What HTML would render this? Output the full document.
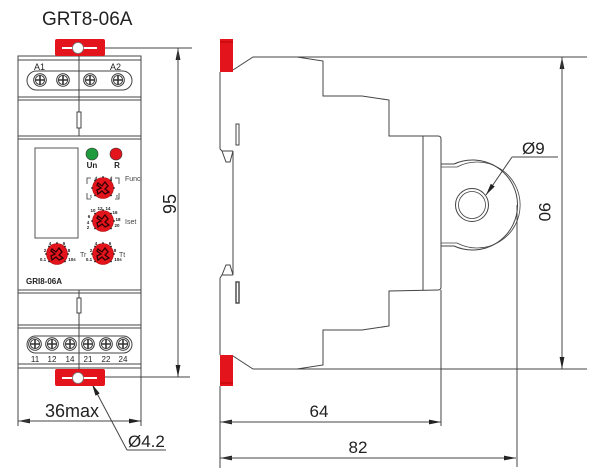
<!DOCTYPE html>
<html><head><meta charset="utf-8"><style>
html,body{margin:0;padding:0;background:#fff;}
svg{display:block;}
text{font-family:"Liberation Sans",Arial,sans-serif;}
</style></head><body>
<svg width="600" height="473" viewBox="0 0 600 473" xmlns="http://www.w3.org/2000/svg">
<defs>
<marker id="ar" viewBox="0 0 12 6" refX="12" refY="3" markerWidth="12" markerHeight="6" markerUnits="userSpaceOnUse" orient="auto">
<path d="M0,0.6 L12,3 L0,5.4 Z" fill="#222"/>
</marker>
<g id="screw"><circle r="6.3" fill="#fff" stroke="#333" stroke-width="1"/><circle r="4.6" fill="none" stroke="#333" stroke-width="0.9"/><path d="M-4.6,0 H4.6 M0,-4.6 V4.6" stroke="#333" stroke-width="1.6"/></g>
<g id="knob"><circle r="10.5" fill="#e3141c" stroke="#a00" stroke-width="0.6"/>
<path d="M-5,-5 L-1,-2 L2,-6 L5,-2 L2,1 L6,4 L2,6 L-1,3 L-5,6 L-6,2 L-2,0 L-6,-3 Z" fill="none" stroke="#300" stroke-width="1.3"/>
<circle cx="0" cy="-11" r="0.9" fill="#222"/><circle cx="8" cy="-7.5" r="0.9" fill="#222"/><circle cx="-8" cy="-7.5" r="0.9" fill="#222"/><circle cx="11" cy="0" r="0.9" fill="#222"/><circle cx="-11" cy="0" r="0.9" fill="#222"/><circle cx="8" cy="7.5" r="0.9" fill="#222"/><circle cx="-8" cy="7.5" r="0.9" fill="#222"/></g>
</defs>

<!-- Title -->
<text x="42" y="25" font-size="19" fill="#222">GRT8-06A</text>

<g stroke="#444" stroke-width="1" fill="none">
<!-- front body -->
<rect x="18" y="56" width="123" height="312"/>
<line x1="18" y1="60" x2="141" y2="60"/>
<line x1="18" y1="97" x2="141" y2="97"/>
<line x1="18" y1="100" x2="141" y2="100"/>
<line x1="18" y1="136" x2="141" y2="136"/>
<line x1="18" y1="139" x2="141" y2="139"/>
<line x1="18" y1="290" x2="141" y2="290"/>
<line x1="18" y1="293" x2="141" y2="293"/>
<line x1="18" y1="325" x2="141" y2="325"/>
<line x1="18" y1="328" x2="141" y2="328"/>
<line x1="18" y1="364" x2="141" y2="364"/>
<line x1="18" y1="368" x2="18" y2="426"/>
<line x1="141" y1="368" x2="141" y2="426"/>
<rect x="27" y="71" width="105" height="19" rx="9.5"/>
<rect x="27" y="336" width="105" height="17" rx="8.5"/>
<line x1="79" y1="48" x2="79" y2="136"/>
<line x1="79" y1="290" x2="79" y2="378"/>
<rect x="77" y="112" width="4" height="16" fill="#fff"/>
<rect x="77" y="298" width="4" height="15" fill="#fff"/>
<rect x="35" y="148" width="43" height="90" stroke="#555"/>
<!-- func bracket -->
<path d="M87,184 V178 H91 M87,193 V199 H91 M119,184 V178 H115 M119,193 V199 H115" stroke="#333" stroke-width="0.8"/>
<!-- front dims -->
<line x1="97" y1="48" x2="192" y2="48"/>
<line x1="97" y1="377" x2="190" y2="377"/>
<line x1="178" y1="377" x2="178" y2="48" marker-end="url(#ar)"/>
<line x1="178" y1="48" x2="178" y2="377" marker-end="url(#ar)"/>
<line x1="141" y1="421" x2="18" y2="421" marker-end="url(#ar)"/>
<line x1="18" y1="421" x2="141" y2="421" marker-end="url(#ar)"/>
<line x1="127" y1="450" x2="92" y2="384" marker-end="url(#ar)"/>
<line x1="127" y1="450" x2="166" y2="450"/>
</g>

<!-- red tabs front -->
<rect x="55" y="39" width="50" height="17" rx="2" fill="#e3141c"/>
<line x1="62" y1="48" x2="97" y2="48" stroke="#fff" stroke-width="2"/>
<circle cx="78" cy="48" r="5.5" fill="#fff" stroke="#777" stroke-width="0.8"/>
<rect x="55" y="369" width="50" height="17" rx="2" fill="#e3141c"/>
<line x1="62" y1="378" x2="97" y2="378" stroke="#fff" stroke-width="2"/>
<circle cx="78" cy="378" r="5.5" fill="#fff" stroke="#777" stroke-width="0.8"/>

<!-- screws -->
<use href="#screw" x="40" y="80"/><use href="#screw" x="63" y="80"/><use href="#screw" x="90" y="80"/><use href="#screw" x="118" y="80"/>
<use href="#screw" x="35" y="344"/><use href="#screw" x="52" y="344"/><use href="#screw" x="70" y="344"/><use href="#screw" x="88" y="344"/><use href="#screw" x="106" y="344"/><use href="#screw" x="123" y="344"/>
<text x="34" y="70" font-size="9" fill="#222">A1</text>
<text x="110" y="70" font-size="9" fill="#222">A2</text>
<g font-size="8" fill="#222" text-anchor="middle">
<text x="35" y="362">11</text><text x="52" y="362">12</text><text x="70" y="362">14</text><text x="88" y="362">21</text><text x="106" y="362">22</text><text x="123" y="362">24</text>
</g>

<!-- LEDs -->
<circle cx="92" cy="154" r="6" fill="#1f9a3c" stroke="#333" stroke-width="0.6"/>
<circle cx="116" cy="154" r="6" fill="#e3141c" stroke="#333" stroke-width="0.6"/>
<text x="92" y="168" font-size="8" font-weight="bold" text-anchor="middle" fill="#222">Un</text>
<text x="117" y="168" font-size="8" font-weight="bold" text-anchor="middle" fill="#222">R</text>

<!-- knobs -->
<use href="#knob" x="103" y="188"/>
<use href="#knob" x="103" y="221"/>
<use href="#knob" x="57" y="254"/>
<use href="#knob" x="103" y="254"/>
<g font-size="4.5" font-weight="bold" fill="#222" text-anchor="middle">
<text x="93" y="212">10</text><text x="100" y="210">12</text><text x="108" y="210">14</text><text x="115" y="214">16</text><text x="118" y="221">18</text><text x="117" y="227">20</text><text x="89" y="218">6</text><text x="88" y="224">4</text><text x="88" y="229">2</text>
<text x="50" y="245">4</text><text x="64" y="245">6</text><text x="45" y="252">2</text><text x="69" y="252">8</text><text x="43" y="261">0.1</text><text x="72" y="261">10s</text>
<text x="96" y="245">4</text><text x="110" y="245">6</text><text x="91" y="252">2</text><text x="115" y="252">8</text><text x="89" y="261">0.1</text><text x="118" y="261">10s</text>
<text x="96" y="180">d</text><text x="111" y="180">d</text><text x="91" y="198">t</text><text x="117" y="198">t</text>
</g>
<text x="125" y="181" font-size="7" fill="#444">Func</text>
<text x="125" y="224" font-size="7" fill="#444">Iset</text>
<text x="80" y="257" font-size="7" fill="#444">Tr</text>
<text x="119" y="257" font-size="7" fill="#444">Tt</text>
<text x="26" y="284" font-size="8" font-weight="bold" fill="#222">GRI8-06A</text>

<text x="170" y="204" font-size="18" fill="#222" text-anchor="middle" transform="rotate(-90 170 204)" dy="6">95</text>
<text x="45" y="417" font-size="18" fill="#222">36max</text>
<text x="128" y="447" font-size="17" fill="#222">Ø4.2</text>

<!-- side view -->
<rect x="220" y="39" width="13" height="33" fill="#e3141c"/>
<line x1="220" y1="42" x2="233" y2="42" stroke="#a00" stroke-width="0.8"/>
<rect x="220" y="355" width="13" height="31" fill="#e3141c"/>
<line x1="220" y1="383" x2="233" y2="383" stroke="#a00" stroke-width="0.8"/>
<g stroke="#444" stroke-width="1" fill="none">
<path d="M233,70 L253,57 L297,57 L323,61 L323,96 L362,96 L389,100 L389,136 L438,136 Q441,136 441,139 L441,287 Q441,290 438,290 L389,291 L389,326 L362,330 L323,330 L323,365 L297,369 L253,369 L233,356"/>
<line x1="423" y1="136" x2="423" y2="290"/>
<line x1="220" y1="72" x2="220" y2="149"/>
<path d="M220,149 L222,151 L233,151 M222,151 L226,162 L230,162 L233,151"/>
<line x1="233" y1="151" x2="233" y2="275"/>
<path d="M220,278 L222,275 L233,275 M222,275 L226,265 L230,265 L233,275"/>
<line x1="220" y1="278" x2="220" y2="355"/>
<rect x="236" y="124" width="3" height="21"/>
<rect x="236" y="282" width="3" height="21" stroke-width="1.4"/>
<!-- ring bracket -->
<path d="M441,164 L454,164 A45,45 0 1 1 454,246 L441,246"/>
<path d="M441,167 L457,167 A43,43 0 1 1 457,243 L441,243" stroke-width="0.8"/>
<circle cx="472" cy="205" r="16.5"/>
<circle cx="472" cy="205" r="13.5" stroke-width="0.8"/>
<!-- extension lines -->
<line x1="297" y1="57" x2="587" y2="57"/>
<line x1="297" y1="369" x2="587" y2="369"/>
<line x1="441" y1="290" x2="441" y2="426"/>
<line x1="517" y1="205" x2="517" y2="467"/>
<line x1="220" y1="386" x2="220" y2="468"/>
<!-- dims -->
<line x1="562" y1="369" x2="562" y2="57" marker-end="url(#ar)"/>
<line x1="562" y1="57" x2="562" y2="369" marker-end="url(#ar)"/>
<line x1="441" y1="422" x2="220" y2="422" marker-end="url(#ar)"/>
<line x1="220" y1="422" x2="441" y2="422" marker-end="url(#ar)"/>
<line x1="516" y1="458" x2="220" y2="458" marker-end="url(#ar)"/>
<line x1="220" y1="458" x2="516" y2="458" marker-end="url(#ar)"/>
<line x1="512" y1="157" x2="486" y2="195" marker-end="url(#ar)"/>
<line x1="512" y1="157" x2="558" y2="157"/>
</g>
<text x="522" y="154" font-size="17" fill="#222">Ø9</text>
<text x="545" y="212" font-size="17" fill="#222" text-anchor="middle" transform="rotate(90 545 212)" dy="6">90</text>
<text x="319" y="417" font-size="17" fill="#222" text-anchor="middle">64</text>
<text x="358" y="453" font-size="17" fill="#222" text-anchor="middle">82</text>
</svg>
</body></html>
